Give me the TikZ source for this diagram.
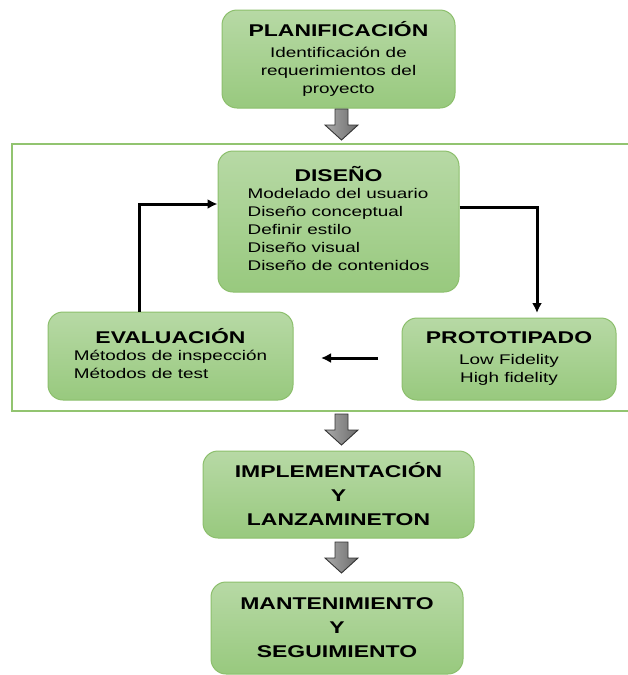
\documentclass[tikz,border=0pt]{standalone}
\usepackage{fontspec}
\setmainfont{Liberation Sans}[FakeStretch=1.35]
\usepackage{tikz}
\usetikzlibrary{arrows.meta}

\definecolor{verdeA}{HTML}{B7D9A5}
\definecolor{verdeB}{HTML}{98C97E}
\definecolor{verdeBorde}{HTML}{8CBF6C}
\definecolor{verdeMarco}{HTML}{92C470}
\definecolor{grisA}{HTML}{ABABAB}
\definecolor{grisB}{HTML}{6A6A6A}

\newcommand{\cab}{\fontsize{17}{24}\selectfont\bfseries}
\newcommand{\cuerpo}{\fontsize{14}{18}\selectfont}

\begin{document}
\begin{tikzpicture}[x=1pt,y=-1pt,
  fase/.style={draw=verdeBorde,line width=1pt,rounded corners=15pt,
    top color=verdeA,bottom color=verdeB,align=center,inner sep=0pt,font=\cuerpo},
  marco/.style={draw=verdeMarco,line width=1.6pt},
  flujo/.style={line width=3pt,-{Latex[length=10pt,width=10pt]}},
  gris/.style={draw=black!80,line width=0.9pt,line join=miter,left color=grisA,right color=grisB}]
\useasboundingbox (0,0) rectangle (627,675);
\draw[marco] (12,144) rectangle (650,411);

\node[fase,minimum width=233pt,minimum height=98pt] (plan) at (338.5,59)
  {{\cab PLANIFICACIÓN}\\[3pt] Identificación de\\ requerimientos del\\ proyecto};
\node[fase,minimum width=241pt,minimum height=141pt] (dis) at (338.5,221.5)
  {{\cab DISEÑO}\\[3pt]
   \begin{tabular}{@{}l@{}}Modelado del usuario\\ Diseño conceptual\\ Definir estilo\\
   Diseño visual\\ Diseño de contenidos\end{tabular}};
\node[fase,minimum width=245pt,minimum height=88pt] (eval) at (170.5,356)
  {{\cab EVALUACIÓN}\\[3pt]
   \begin{tabular}{@{}l@{}}Métodos de inspección\\ Métodos de test\end{tabular}};
\node[fase,minimum width=214pt,minimum height=82pt] (proto) at (509,359)
  {{\cab PROTOTIPADO}\\[3pt] Low Fidelity\\ High fidelity};
\node[fase,font=\cab,minimum width=271pt,minimum height=87pt] (impl) at (338.5,494.5)
  {IMPLEMENTACIÓN\\ Y\\ LANZAMINETON};
\node[fase,font=\cab,minimum width=252pt,minimum height=92pt] (mant) at (337,628)
  {MANTENIMIENTO\\ Y\\ SEGUIMIENTO};

% flechas grises entre fases
\foreach \y [count=\i] in {109,414,542}{
  \coordinate (g\i) at (341.5,\y);
  \draw[gris] (g\i) ++(-6.5,0) -- ++(13,0) -- ++(0,16) -- ++(10,0) -- ++(-16.5,15)
    -- ++(-16.5,-15) -- ++(10,0) -- cycle;
}

% ciclo de diseno
\coordinate (pt) at (537,313);
\coordinate (ha) at (378,358);
\coordinate (hb) at (321,358);
\draw[flujo] ([yshift=14.5pt]dis.east) -| (pt);
\draw[flujo] (ha) -- (hb);
\draw[flujo] ([xshift=-31.5pt]eval.north) |- ([yshift=17.5pt]dis.west);
\end{tikzpicture}
\end{document}
